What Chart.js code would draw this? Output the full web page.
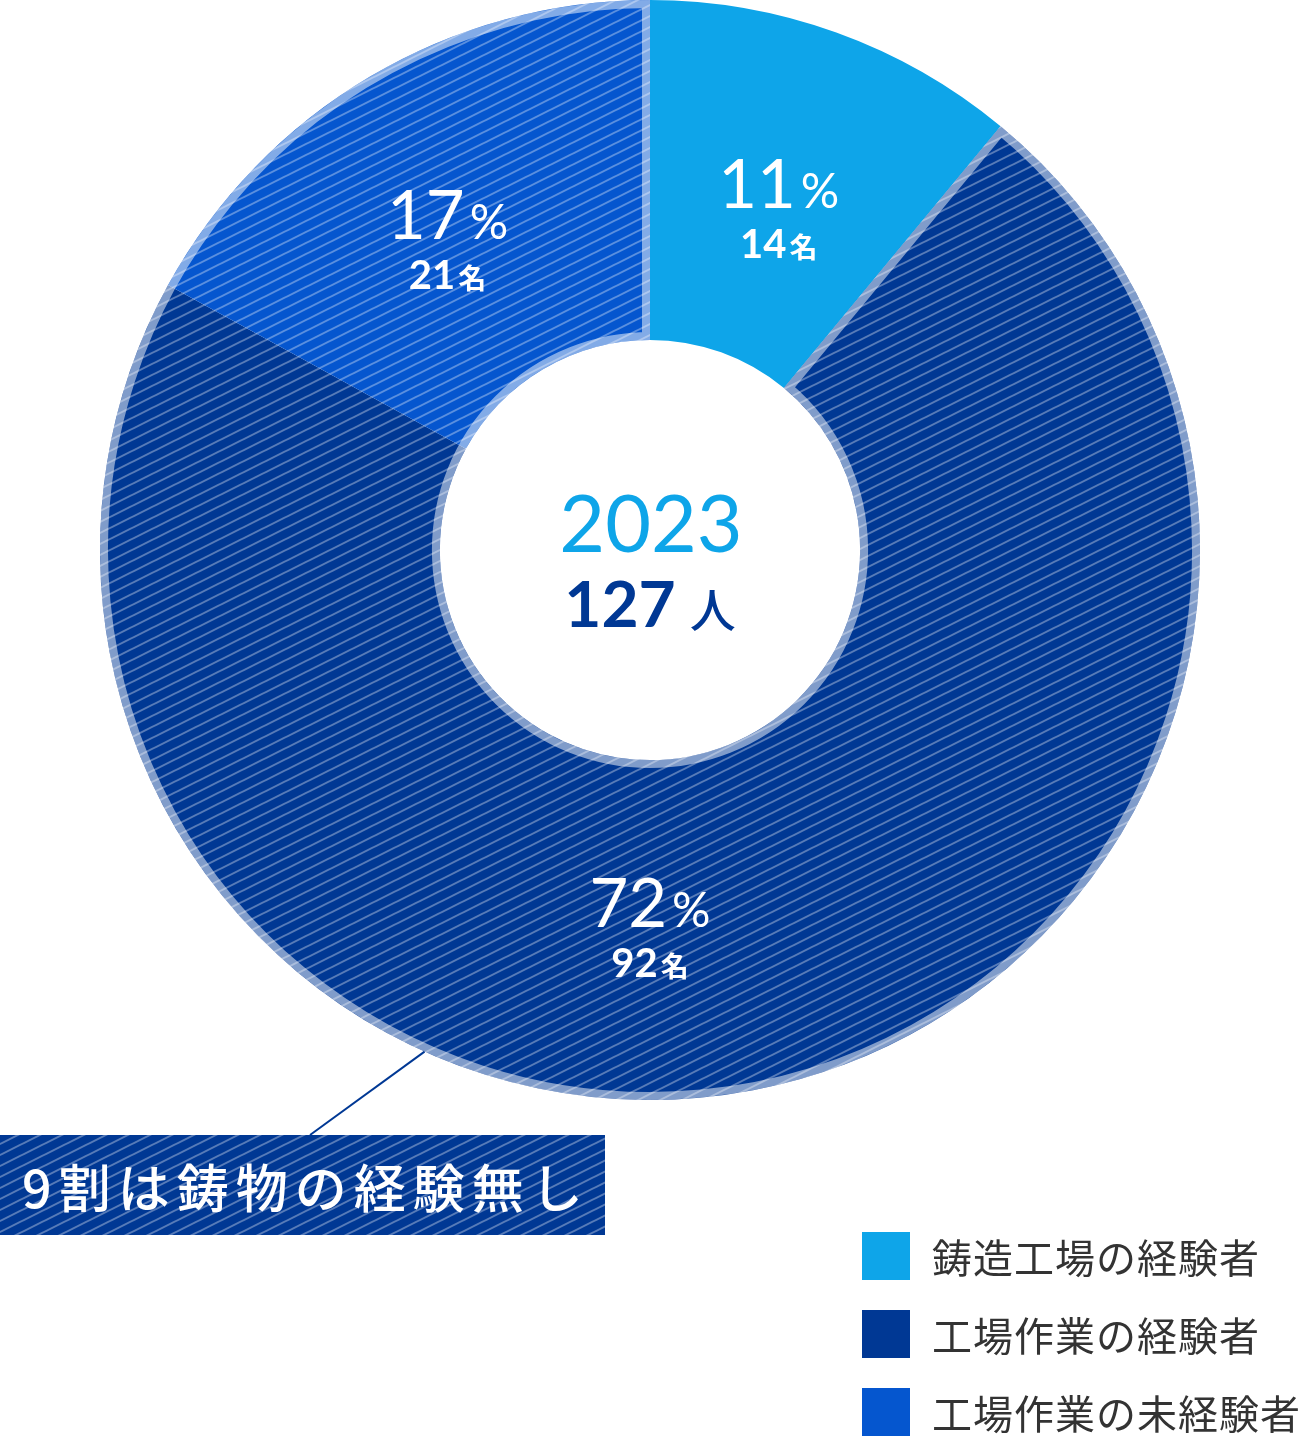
<!DOCTYPE html>
<html lang="ja">
<head>
<meta charset="utf-8">
<script src="https://cdn.jsdelivr.net/npm/chart.js@4.4.1/dist/chart.umd.min.js"></script>
<style>
  body { margin: 0; background: #fff; }
  #wrap { position: relative; width: 1300px; height: 1440px; }
  #callout {
    position: absolute; left: 0; top: 1135px; width: 605px; height: 100px;
    display: flex; align-items: center; box-sizing: border-box; padding-left: 22px;
    font: 500 52px "Noto Sans CJK JP", sans-serif; color: #fff; letter-spacing: 7px;
    white-space: nowrap;
  }
  #legend { position: absolute; left: 862px; top: 1232px; }
  .item { display: flex; align-items: center; height: 48px; margin-bottom: 30px; white-space: nowrap; }
  .box { width: 48px; height: 48px; margin-right: 22px; flex: none; }
  .txt { font: 400 40px "Noto Sans CJK JP", sans-serif; color: #333; letter-spacing: 1px; }
</style>
</head>
<body>
<div id="wrap">
  <canvas id="donut"></canvas>
  <div id="callout"></div>
  <div id="legend"></div>
</div>
<script>
const labels = ['鋳造工場の経験者', '工場作業の経験者', '工場作業の未経験者'];
const counts = [14, 92, 21];
const percents = [11, 72, 17];
const colors = ['#0EA5E9', '#003894', '#0556CF'];
const hatched = [false, true, true];
const yearText = '2023';
const calloutText = '9割は鋳物の経験無し';

const total = counts.reduce((a, b) => a + b, 0);

function makeHatch(color) {
  const c = document.createElement('canvas');
  c.width = 22; c.height = 11;
  const g = c.getContext('2d');
  g.fillStyle = color;
  g.fillRect(0, 0, 22, 11);
  g.strokeStyle = 'rgba(255,255,255,0.34)';
  g.lineWidth = 2;
  for (let k = -1; k <= 1; k++) {
    g.beginPath();
    g.moveTo(-4, 13 + 11 * k);
    g.lineTo(26, -2 + 11 * k);
    g.stroke();
  }
  return g.createPattern(c, 'repeat');
}

const fills = colors.map((c, i) => hatched[i] ? makeHatch(c) : c);

// legend + callout text as html
const legend = document.getElementById('legend');
labels.forEach((l, i) => {
  const row = document.createElement('div');
  row.className = 'item';
  row.innerHTML = '<div class="box" style="background:' + colors[i] + '"></div><span class="txt">' + l + '</span>';
  legend.appendChild(row);
});
document.getElementById('callout').textContent = calloutText;

const decor = {
  id: 'decor',
  afterDatasetsDraw(chart) {
    const ctx = chart.ctx;
    const meta = chart.getDatasetMeta(0);
    const keys = ['x', 'y', 'startAngle', 'endAngle', 'innerRadius', 'outerRadius'];
    const arcs = meta.data.map(a => a.getProps(keys, true));
    const a = arcs[1], b = arcs[2];

    // light border around the hatched part (inside only)
    ctx.save();
    ctx.beginPath();
    ctx.arc(a.x, a.y, a.outerRadius, a.startAngle, b.endAngle);
    ctx.arc(a.x, a.y, a.innerRadius, b.endAngle, a.startAngle, true);
    ctx.closePath();
    ctx.clip();
    ctx.lineWidth = 16;
    ctx.strokeStyle = 'rgba(255,255,255,0.5)';
    ctx.stroke();
    ctx.restore();

    // segment labels
    ctx.save();
    ctx.fillStyle = '#fff';
    ctx.textBaseline = 'alphabetic';
    ctx.textAlign = 'left';
    arcs.forEach((p, i) => {
      let ang = (p.startAngle + p.endAngle) / 2;
      let r = (p.innerRadius + p.outerRadius) / 2;
      let dx = 0;
      if (i === 1) { ang = Math.PI / 2; r -= 19; }
      if (i === 2) dx = -9;
      const x = p.x + r * Math.cos(ang) + dx;
      const y = p.y + r * Math.sin(ang);

      const num = String(percents[i]);
      ctx.font = '400 67px Lato';
      const wn = ctx.measureText(num).width;
      ctx.font = '400 48px Lato';
      const wp = ctx.measureText('%').width;
      let sx = x - (wn + 5 + wp) / 2;
      ctx.font = '400 67px Lato';
      ctx.fillText(num, sx, y + 16);
      ctx.font = '400 48px Lato';
      ctx.fillText('%', sx + wn + 5, y + 16);

      const cnt = String(counts[i]);
      ctx.font = '700 40px Lato';
      const wc = ctx.measureText(cnt).width;
      ctx.font = '700 28px "Noto Sans CJK JP"';
      const wm = ctx.measureText('名').width;
      sx = x - (wc + 3 + wm) / 2;
      ctx.font = '700 40px Lato';
      ctx.fillText(cnt, sx, y + 66);
      ctx.font = '700 28px "Noto Sans CJK JP"';
      ctx.fillText('名', sx + wc + 3, y + 66);
    });

    // center text
    const cx = a.x, cy = a.y;
    ctx.textAlign = 'center';
    ctx.fillStyle = '#0EA5E9';
    ctx.font = '400 79px Lato';
    ctx.fillText(yearText, cx + 1, cy + 2);
    ctx.textAlign = 'left';
    ctx.fillStyle = '#003894';
    ctx.font = '700 64px Lato';
    const tt = String(total);
    const wt = ctx.measureText(tt).width;
    ctx.font = '500 46px "Noto Sans CJK JP"';
    const wj = ctx.measureText('人').width;
    const tx = cx - (wt + 14 + wj) / 2;
    ctx.font = '700 64px Lato';
    ctx.fillText(tt, tx, cy + 77);
    ctx.font = '500 46px "Noto Sans CJK JP"';
    ctx.fillText('人', tx + wt + 14, cy + 77);

    // callout box + leader line
    ctx.fillStyle = makeHatch(colors[1]);
    ctx.fillRect(0, 1135, 605, 100);
    const la = 114.2 * Math.PI / 180;
    ctx.beginPath();
    ctx.moveTo(310, 1135);
    ctx.lineTo(cx + a.outerRadius * Math.cos(la), cy + a.outerRadius * Math.sin(la));
    ctx.strokeStyle = '#003894';
    ctx.lineWidth = 2;
    ctx.stroke();
    ctx.restore();
  }
};

new Chart(document.getElementById('donut'), {
  type: 'doughnut',
  data: {
    labels: labels,
    datasets: [{
      data: percents,
      backgroundColor: fills,
      borderWidth: 0,
      hoverOffset: 0
    }]
  },
  options: {
    responsive: true,
    maintainAspectRatio: false,
    animation: false,
    events: [],
    cutout: '38.2%',
    layout: { padding: { left: 100, right: 100, top: 0, bottom: 340 } },
    plugins: {
      legend: { display: false },
      tooltip: { enabled: false }
    }
  },
  plugins: [decor]
});
</script>
</body>
</html>
